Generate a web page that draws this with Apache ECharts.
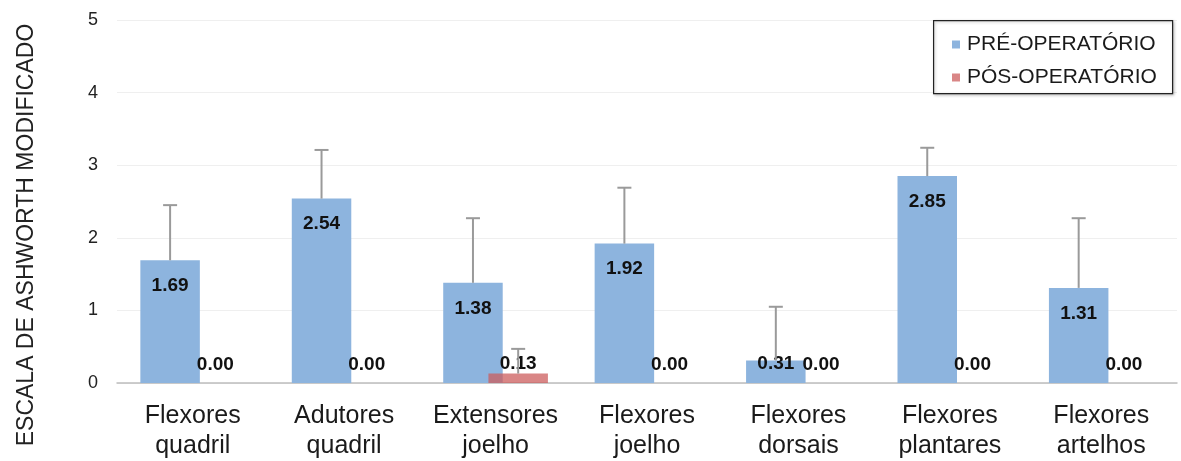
<!DOCTYPE html>
<html>
<head>
<meta charset="utf-8">
<script src="https://cdn.jsdelivr.net/npm/echarts@6/dist/echarts.min.js"></script>
<style>
  html, body { margin: 0; padding: 0; background: #ffffff; }
  #chart { width: 1181px; height: 461px; }
</style>
</head>
<body>
<div id="chart"></div>
<script>
// Muscle groups on the x axis
const categories = ['Flexores\nquadril', 'Adutores\nquadril', 'Extensores\njoelho', 'Flexores\njoelho', 'Flexores\ndorsais', 'Flexores\nplantares', 'Flexores\nartelhos'];
// Mean Ashworth score and standard deviation, before surgery
const preMean = [1.69, 2.54, 1.38, 1.92, 0.31, 2.85, 1.31];
const preSD = [0.76, 0.67, 0.89, 0.77, 0.74, 0.39, 0.96];
// Mean Ashworth score and standard deviation, after surgery
const postMean = [0.00, 0.00, 0.13, 0.00, 0.00, 0.00, 0.00];
const postSD = [0.00, 0.00, 0.34, 0.00, 0.00, 0.00, 0.00];
// Y axis ticks
const yTicks = [0, 1, 2, 3, 4, 5];
const seriesNames = ['PRÉ-OPERATÓRIO', 'PÓS-OPERATÓRIO'];

const BLUE = '#8db4de';
const PINK = 'rgba(204, 92, 92, 0.74)';
const BAR_W = 59.5;
const GAP = -0.24;
// horizontal offset of each bar from the category centre
const OFFSET = (BAR_W + GAP * BAR_W) / 2;
const FONT = 'Liberation Sans, Arial, sans-serif';

const chart = echarts.init(document.getElementById('chart'), null, { renderer: 'canvas' });

function errorRender(offset) {
  return function (params, api) {
    const sd = api.value(2) - api.value(1);
    if (!(sd > 0)) return null;
    const base = api.coord([api.value(0), api.value(1)]);
    const top = api.coord([api.value(0), api.value(2)]);
    const x = base[0] + offset;
    const capHalf = 7;
    const style = { stroke: '#9a9a9a', lineWidth: 2 };
    return {
      type: 'group',
      children: [
        { type: 'line', shape: { x1: x, y1: base[1], x2: x, y2: top[1] }, style: style },
        { type: 'line', shape: { x1: x - capHalf, y1: top[1], x2: x + capHalf, y2: top[1] }, style: style }
      ]
    };
  };
}

const labelFont = { fontFamily: FONT, fontWeight: 'bold', fontSize: 19, color: '#111111' };
const fmt = function (p) { return Number(p.value).toFixed(2); };

const preData = preMean.map(function (v) {
  if (v < 0.5) {
    return { value: v, label: { position: 'insideBottom', distance: 10 } };
  }
  return v;
});
const postData = postMean.map(function (v) {
  return { value: v, label: { position: 'top', distance: v > 0 ? 0 : 9 } };
});

chart.setOption({
  animation: false,
  backgroundColor: '#ffffff',
  grid: { left: 117, right: 4, top: 20, bottom: 69 },
  legend: {
    orient: 'vertical',
    left: 947,
    top: 29,
    z: 10,
    itemWidth: 8,
    itemHeight: 8,
    itemGap: 12,
    icon: 'rect',
    data: seriesNames,
    textStyle: { fontFamily: FONT, fontSize: 21, color: '#1a1a1a', padding: [0, 0, 0, 2] }
  },
  graphic: [
    {
      type: 'rect',
      left: 933, top: 20, z: 5,
      shape: { width: 239, height: 73 },
      style: { fill: '#ffffff', stroke: '#222222', lineWidth: 1.2, shadowBlur: 3, shadowColor: 'rgba(0,0,0,0.25)', shadowOffsetX: 1, shadowOffsetY: 1 }
    },
    {
      type: 'text',
      x: 27, y: 235,
      rotation: Math.PI / 2,
      style: {
        text: 'ESCALA DE ASHWORTH MODIFICADO',
        fontFamily: FONT,
        fontSize: 23,
        fill: '#222222',
        textAlign: 'center',
        textVerticalAlign: 'middle'
      }
    }
  ],
  xAxis: {
    type: 'category',
    data: categories,
    axisTick: { show: false },
    axisLine: { lineStyle: { color: '#bdbdbd', width: 1.5 } },
    axisLabel: {
      interval: 0,
      margin: 18,
      fontFamily: FONT,
      fontSize: 25,
      lineHeight: 30,
      color: '#1a1a1a'
    }
  },
  yAxis: {
    type: 'value',
    min: yTicks[0],
    max: yTicks[yTicks.length - 1],
    interval: 1,
    axisLine: { show: false },
    axisTick: { show: false },
    splitLine: { lineStyle: { color: '#efefef', width: 1 } },
    axisLabel: {
      margin: 19,
      fontFamily: FONT,
      fontSize: 18,
      color: '#222222'
    }
  },
  series: [
    {
      name: seriesNames[0],
      type: 'bar',
      data: preData,
      barWidth: BAR_W,
      barGap: (GAP * 100) + '%',
      itemStyle: { color: BLUE },
      label: Object.assign({ show: true, position: 'insideTop', distance: 16, formatter: fmt }, labelFont),
      z: 2
    },
    {
      name: seriesNames[1],
      type: 'bar',
      data: postData,
      barWidth: BAR_W,
      itemStyle: { color: PINK },
      label: Object.assign({ show: true, position: 'top', formatter: fmt }, labelFont),
      z: 3
    },
    {
      name: 'dp-pre',
      type: 'custom',
      renderItem: errorRender(-OFFSET),
      data: preMean.map(function (m, i) { return [i, m, m + preSD[i]]; }),
      z: 4,
      silent: true
    },
    {
      name: 'dp-post',
      type: 'custom',
      renderItem: errorRender(OFFSET),
      data: postMean.map(function (m, i) { return [i, m, m + postSD[i]]; }),
      z: 4,
      silent: true
    }
  ]
});
</script>
</body>
</html>
